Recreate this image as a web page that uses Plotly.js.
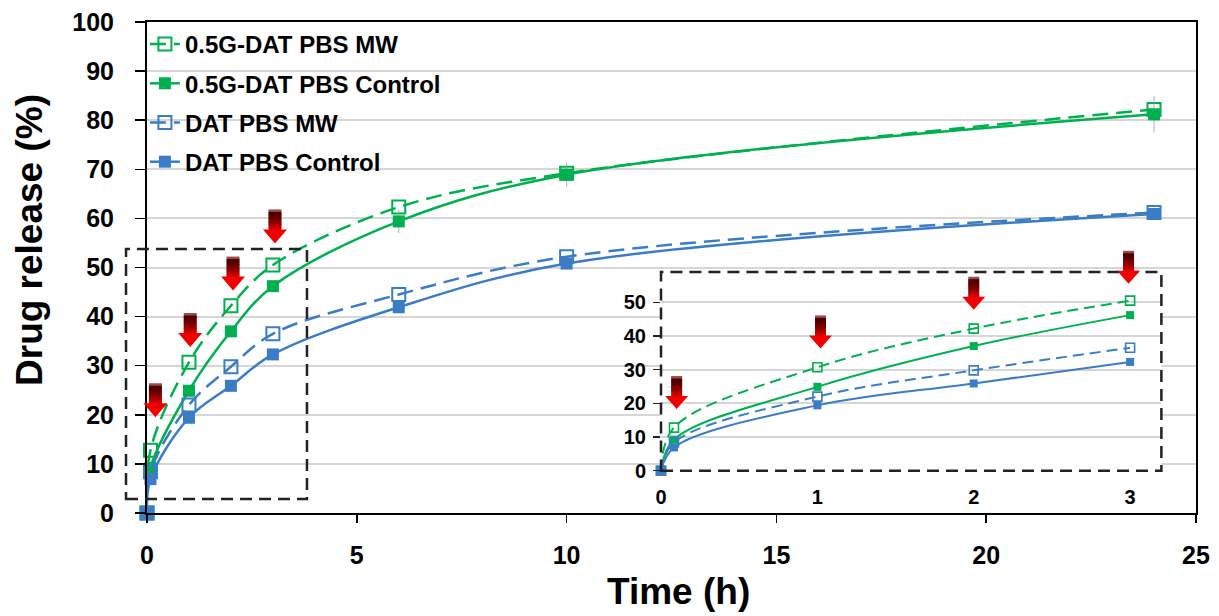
<!DOCTYPE html>
<html><head><meta charset="utf-8">
<script src="https://cdn.plot.ly/plotly-3.0.1.min.js"></script>
<style>html,body{margin:0;padding:0;background:#fff}#chart{width:1219px;height:616px}</style>
</head><body><div id="chart"></div>
<script>
// ---- data ----
const timeH    = [0, 0.083, 1, 2, 3, 6, 10, 24];
const gMW      = [0, 12.8, 30.7, 42.2, 50.5, 62.3, 69.2, 82.2];
const gCtrl    = [0, 9.2, 24.9, 37.0, 46.2, 59.4, 68.9, 81.2];
const bMW      = [0, 8.4, 22.0, 29.8, 36.5, 44.5, 52.2, 61.2];
const bCtrl    = [0, 6.9, 19.4, 25.9, 32.3, 41.9, 50.8, 60.9];
const gCtrlErr = [0, 0, 0, 0, 0, 2.4, 2.5, 3.7];
const seriesNames = ['0.5G-DAT PBS MW', '0.5G-DAT PBS Control', 'DAT PBS MW', 'DAT PBS Control'];
const xTicksMain  = [0, 5, 10, 15, 20, 25];
const yTicksMain  = [0, 10, 20, 30, 40, 50, 60, 70, 80, 90, 100];
const xTicksInset = [0, 1, 2, 3];
const yTicksInset = [0, 10, 20, 30, 40, 50];
const insetMaxTime = 3;
// MW irradiation arrows: (time, arrow-tip level in %)
const arrowMainX    = [0.2, 1.03, 2.05, 3.05];
const arrowMainTip  = [19.5, 33.8, 45.3, 54.9];
const arrowInsetX   = [0.10, 1.02, 2.0, 2.99];
const arrowInsetTip = [18.3, 36.3, 47.8, 55.5];

// ---- style ----
const GREEN = '#00B050', BLUE = '#3A7DC4';
const FONT = 'Liberation Sans, Arial, sans-serif';
const X1R = [0, 25], Y1R = [0, 100], X2R = [0, 3.2], Y2R = [0, 59];
const XD2 = [0.49, 0.967], YD2 = [0.0862, 0.4908];

const series = [
  {y: gMW,   name: seriesNames[0], color: GREEN, open: true},
  {y: gCtrl, name: seriesNames[1], color: GREEN, open: false, err: gCtrlErr},
  {y: bMW,   name: seriesNames[2], color: BLUE,  open: true},
  {y: bCtrl, name: seriesNames[3], color: BLUE,  open: false}
];

const traces = [];
series.forEach((s, i) => {
  const t = {
    x: timeH, y: s.y, name: s.name, type: 'scatter', mode: 'lines+markers',
    legendgroup: 'g' + i, cliponaxis: false,
    line: {color: s.color, width: 2.5, shape: 'spline', smoothing: 1, dash: s.open ? '16px,8px' : 'solid'},
    marker: s.open ? {symbol: 'square-open', size: 13, color: s.color, line: {width: 2, color: s.color}}
                   : {symbol: 'square', size: 12, color: s.color, line: {width: 0}},
    xaxis: 'x', yaxis: 'y'
  };
  if (s.err) t.error_y = {type: 'data', array: s.err, visible: true, color: '#9a9a9a', thickness: 0.8, width: 0};
  traces.push(t);
});
series.forEach((s, i) => {
  const xs = [], ys = [];
  timeH.forEach((tv, k) => { if (tv <= insetMaxTime) { xs.push(tv); ys.push(s.y[k]); } });
  traces.push({
    x: xs, y: ys, type: 'scatter', mode: 'lines+markers', showlegend: false, cliponaxis: false,
    line: {color: s.color, width: 2, shape: 'spline', smoothing: 1, dash: s.open ? '11px,6px' : 'solid'},
    marker: s.open ? {symbol: 'square-open', size: 9, color: s.color, line: {width: 1.6, color: s.color}}
                   : {symbol: 'square', size: 8, color: s.color, line: {width: 0}},
    xaxis: 'x2', yaxis: 'y2'
  });
});

// ---- decorations ----
function toPaper(v, r, d) { return d[0] + (v - r[0]) / (r[1] - r[0]) * (d[1] - d[0]); }
const shapes = [];
function dashedBox(x0, x1, y0, y1, dash) {
  shapes.push({type: 'rect', xref: 'paper', yref: 'paper', x0, x1, y0, y1,
    line: {color: '#222', width: 2.5, dash: dash}, fillcolor: 'rgba(0,0,0,0)', layer: 'above'});
}
const shaftCols = ['#9a4a4a', '#4a0000', '#560000', '#680000', '#7e0000', '#980000', '#b40000', '#d20000'];
function arrow(px, py, shaftW, headW, headH, shaftH) {
  const base = {xref: 'paper', yref: 'paper', xsizemode: 'pixel', ysizemode: 'pixel', xanchor: px, yanchor: py, layer: 'above', line: {width: 0}};
  const n = shaftCols.length, bh = shaftH / n;
  for (let k = 0; k < n; k++) {
    const top = headH + shaftH - k * bh;
    shapes.push(Object.assign({}, base, {type: 'rect', x0: -shaftW / 2, x1: shaftW / 2, y0: Math.max(headH - 1, top - bh - 0.9), y1: top, fillcolor: shaftCols[k]}));
  }
  shapes.push(Object.assign({}, base, {type: 'path', path: `M ${-headW / 2},${headH} L ${headW / 2},${headH} L 0,0 Z`, fillcolor: '#f00000'}));
}
// main zoom box and inset frame
dashedBox(-0.020, 0.1525, 0.0285, 0.5377, '12px,7px');
dashedBox(XD2[0], XD2[1], YD2[0], YD2[1], '12px,7px');
arrowMainX.forEach((x, i) => arrow(toPaper(x, X1R, [0, 1]), toPaper(arrowMainTip[i], Y1R, [0, 1]), 13, 24, 14, 20));
arrowInsetX.forEach((x, i) => arrow(toPaper(x, X2R, XD2), toPaper(arrowInsetTip[i], Y2R, YD2), 11, 23, 13, 20));

const tickFontMain = {family: FONT, size: 25, color: '#000', weight: 700};
const tickFontInset = {family: FONT, size: 20, color: '#000', weight: 700};

const layout = {
  width: 1219, height: 616,
  margin: {l: 147, r: 23, t: 22, b: 103, pad: 0},
  paper_bgcolor: '#fff', plot_bgcolor: '#fff',
  showlegend: true,
  legend: {x: -0.002, xanchor: 'left', y: 1, yanchor: 'top', bgcolor: 'rgba(0,0,0,0)', borderwidth: 0,
    font: {family: FONT, size: 24, color: '#000', weight: 700}, tracegroupgap: 5, itemwidth: 30},
  xaxis: {domain: [0, 1], range: X1R, tickvals: xTicksMain, ticktext: xTicksMain.map(String),
    ticks: 'outside', ticklen: 8, tickwidth: 1.5, tickcolor: '#000', showline: true, linecolor: '#000', linewidth: 2,
    mirror: true, showgrid: false, zeroline: false, tickfont: tickFontMain, ticklabelstandoff: 11, anchor: 'y'},
  yaxis: {domain: [0, 1], range: Y1R, tickvals: yTicksMain, ticktext: yTicksMain.map(String),
    ticks: 'outside', ticklen: 10, tickwidth: 1.5, tickcolor: '#000', showline: true, linecolor: '#000', linewidth: 2,
    mirror: true, showgrid: true, gridcolor: '#d6d6d6', gridwidth: 2, zeroline: false, tickfont: tickFontMain,
    ticklabelstandoff: 16, anchor: 'x'},
  xaxis2: {domain: XD2, range: X2R, anchor: 'y2', tickvals: xTicksInset, ticktext: xTicksInset.map(String),
    ticks: '', showline: false, showgrid: false, zeroline: false, tickfont: tickFontInset, ticklabelstandoff: 12},
  yaxis2: {domain: YD2, range: Y2R, anchor: 'x2', tickvals: yTicksInset, ticktext: yTicksInset.map(String),
    ticks: 'outside', ticklen: 7, tickwidth: 1.5, tickcolor: '#222', showline: false, showgrid: true,
    gridcolor: '#d6d6d6', gridwidth: 2, zeroline: false, tickfont: tickFontInset, ticklabelstandoff: 3},
  shapes: shapes,
  annotations: [
    {text: 'Drug release (%)', xref: 'paper', yref: 'paper', x: -0.1125, y: 0.556, xanchor: 'center', yanchor: 'middle',
      textangle: -90, showarrow: false, font: {family: FONT, size: 37, color: '#000', weight: 700}},
    {text: 'Time (h)', xref: 'paper', yref: 'paper', x: 0.507, y: -0.2055, xanchor: 'center', yanchor: 'bottom',
      showarrow: false, font: {family: FONT, size: 37, color: '#000', weight: 700}}
  ],
  hovermode: false
};
Plotly.newPlot('chart', traces, layout, {staticPlot: true, displayModeBar: false});
</script>
</body></html>
